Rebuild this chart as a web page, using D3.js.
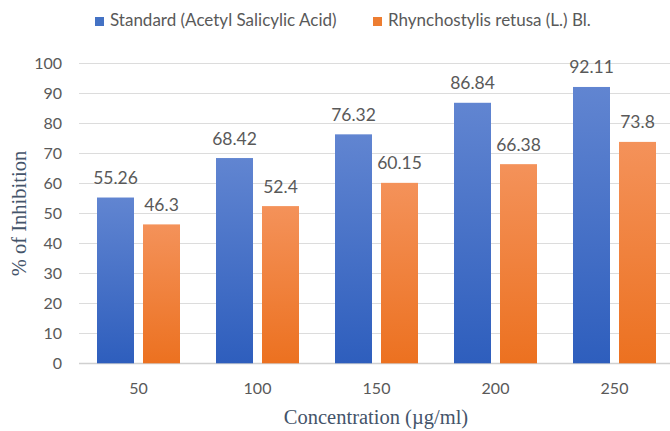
<!DOCTYPE html>
<html><head><meta charset="utf-8">
<script src="https://cdn.jsdelivr.net/npm/d3@7"></script>
<style>body{margin:0;background:#fff}svg{display:block}</style>
</head><body>
<script>
const categories = ["50","100","150","200","250"];
const seriesNames = ["Standard (Acetyl Salicylic Acid)","Rhynchostylis retusa (L.) Bl."];
const standardValues = [55.26,68.42,76.32,86.84,92.11];
const retusaValues = [46.3,52.4,60.15,66.38,73.8];
const yTicks = [0,10,20,30,40,50,60,70,80,90,100];

const W=670,H=431;
const svg=d3.select("body").append("svg").attr("width",W).attr("height",H);
const defs=svg.append("defs");
const grads=[["gBlue","#6185d1","#2e5ebd"],["gOrange","#f4925a","#ec7120"]];
grads.forEach(([id,top,bot])=>{
  const g=defs.append("linearGradient").attr("id",id).attr("x1",0).attr("y1",0).attr("x2",0).attr("y2",1);
  g.append("stop").attr("offset","0%").attr("stop-color",top);
  g.append("stop").attr("offset","100%").attr("stop-color",bot);
});
const x=d3.scaleBand().domain(categories).range([79,674]).paddingInner(0).paddingOuter(0);
const y=d3.scaleLinear().domain([0,100]).range([363.3,63.3]);
const textCol="#595959";
const tickFont="Lato, 'Open Sans', sans-serif";

// grid
svg.append("g").selectAll("line").data(yTicks).join("line")
  .attr("x1",79).attr("x2",W).attr("y1",d=>Math.round(y(d))+0.5).attr("y2",d=>Math.round(y(d))+0.5)
  .attr("stroke",d=>d===0?"#d0d0d0":"#dcdcdc").attr("stroke-width",d=>d===0?1.5:1);

// y axis labels
const yAxis=d3.axisLeft(y).tickValues(yTicks).tickSize(0).tickPadding(0);
const ya=svg.append("g").attr("transform","translate(62,0)").call(yAxis);
ya.select(".domain").remove();
ya.selectAll("text").attr("fill",textCol).style("font-family",tickFont).style("font-size","16px");

// x axis labels
const xAxis=d3.axisBottom(x).tickSize(0).tickPadding(0);
const xa=svg.append("g").attr("transform","translate(0,383)").call(xAxis);
xa.select(".domain").remove();
xa.selectAll("text").attr("fill",textCol).style("font-family",tickFont).style("font-size","16px");

const bw=37, gap=9;
const series=[{vals:standardValues,fill:"url(#gBlue)",off:-(gap/2)-bw},{vals:retusaValues,fill:"url(#gOrange)",off:gap/2}];
series.forEach(s=>{
  const g=svg.append("g");
  g.selectAll("rect").data(categories).join("rect")
    .attr("x",(c)=>x(c)+x.bandwidth()/2+s.off)
    .attr("y",(c,i)=>y(s.vals[i]))
    .attr("width",bw)
    .attr("height",(c,i)=>y(0)-y(s.vals[i]))
    .attr("fill",s.fill);
  g.selectAll("text").data(categories).join("text")
    .attr("x",(c)=>x(c)+x.bandwidth()/2+s.off+bw/2)
    .attr("y",(c,i)=>y(s.vals[i])-13.5)
    .attr("text-anchor","middle")
    .attr("fill",textCol).style("font-family",tickFont).style("font-size","17.5px")
    .text((c,i)=>s.vals[i]);
});

// legend
const leg=[{name:seriesNames[0],col:"#4472c4",x:95},{name:seriesNames[1],col:"#ed7d31",x:373}];
leg.forEach(l=>{
  svg.append("rect").attr("x",l.x).attr("y",17).attr("width",9).attr("height",9).attr("fill",l.col);
  svg.append("text").attr("x",l.x+15).attr("y",26).attr("fill",textCol)
    .style("font-family",tickFont).style("font-size","17px").text(l.name);
});

// axis titles
svg.append("text").attr("transform","translate(26,213.5) rotate(-90)").attr("text-anchor","middle")
  .attr("fill","#44546a").style("font-family","'Liberation Serif', serif").style("font-size","20.5px").text("% of Inhibition");
svg.append("text").attr("x",376).attr("y",424).attr("text-anchor","middle")
  .attr("fill","#44546a").style("font-family","'Liberation Serif', serif").style("font-size","20.5px").text("Concentration (µg/ml)");
</script>
</body></html>
